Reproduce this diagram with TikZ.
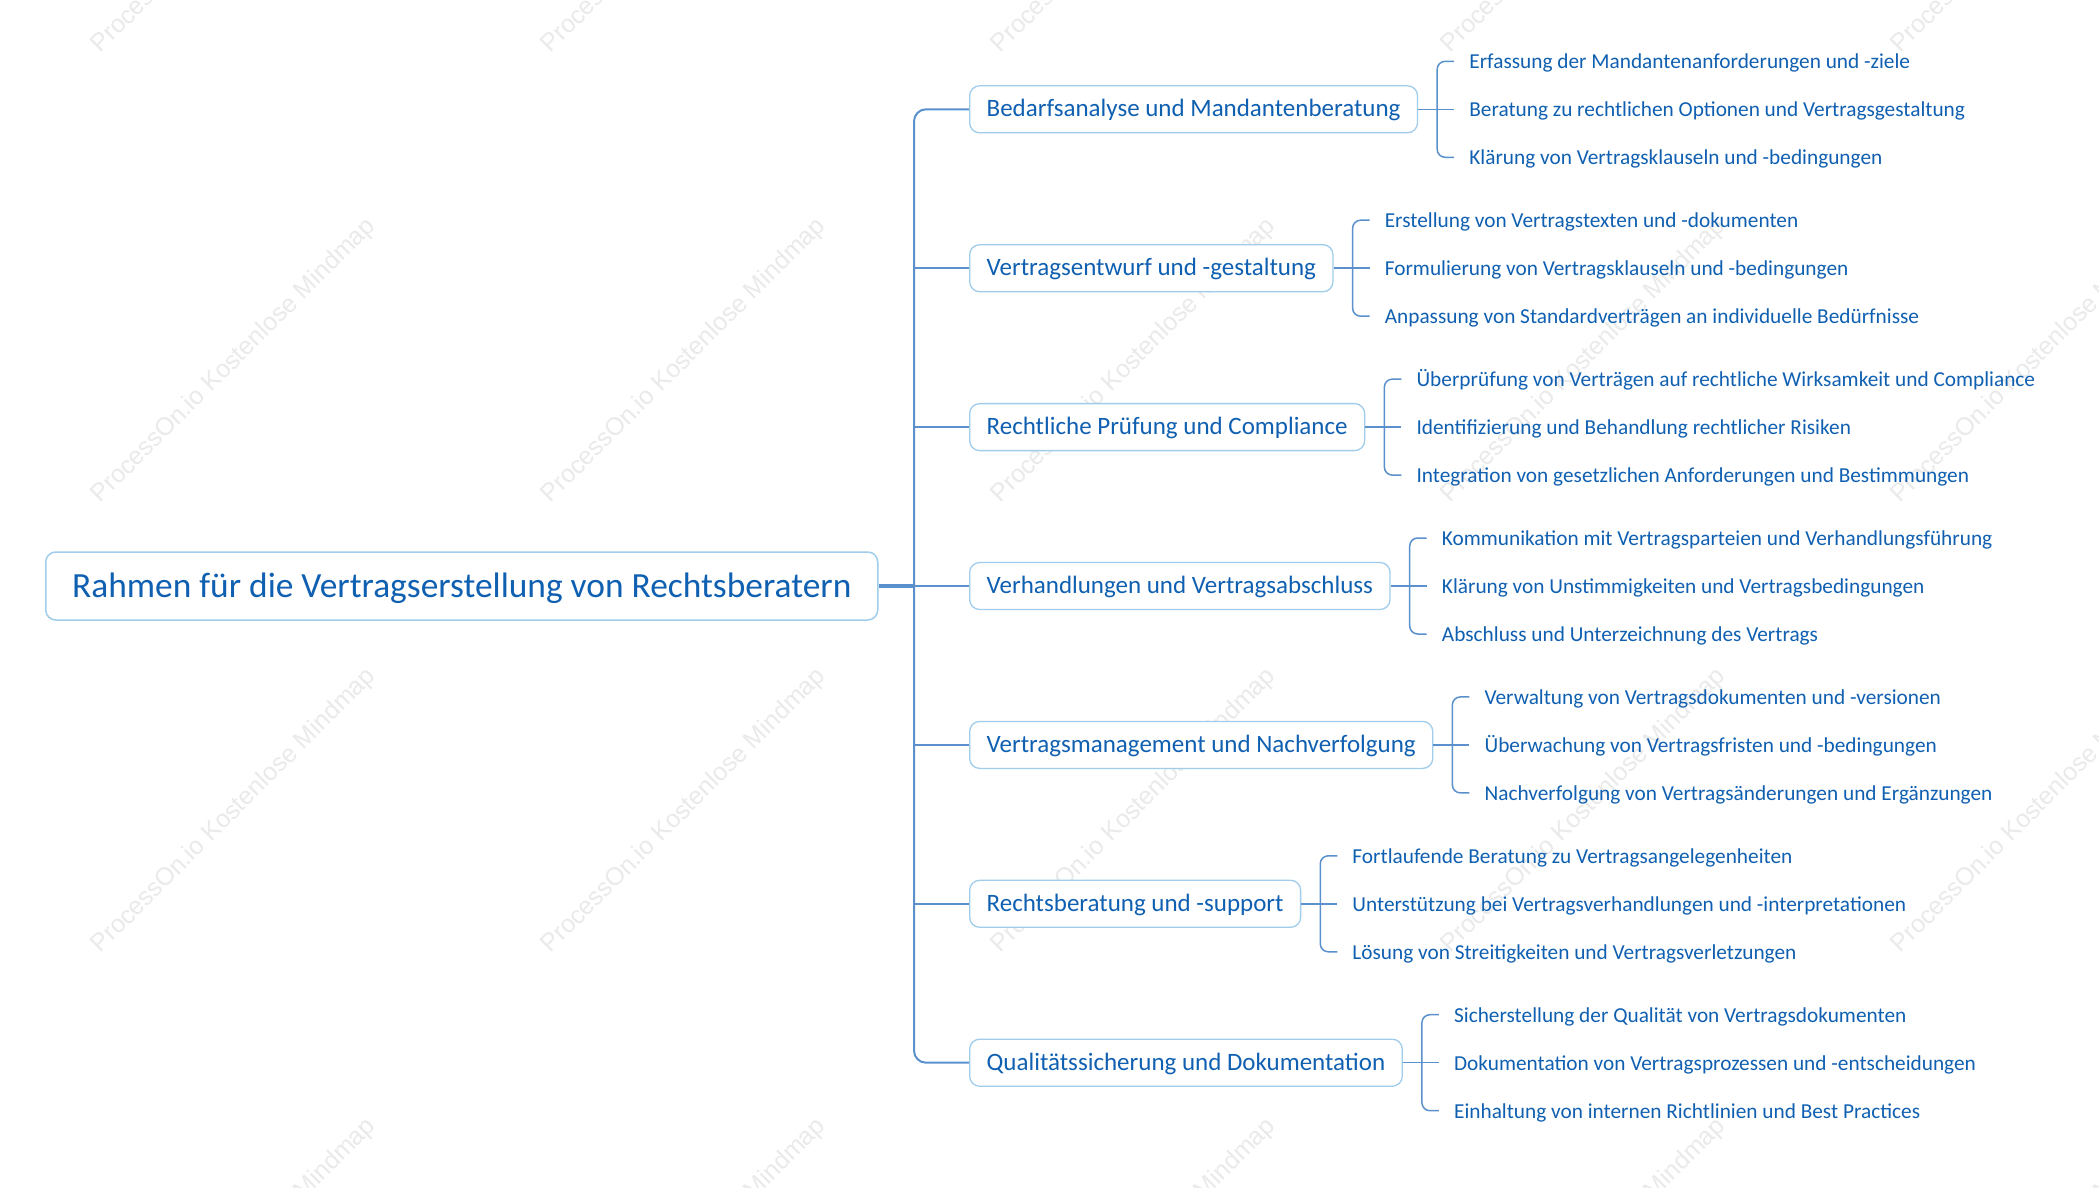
\documentclass[tikz,border=0pt]{standalone}
\usepackage{fontspec}
\setmainfont{Carlito}
\newfontfamily\wmfont{Liberation Sans}
\usetikzlibrary{calc}
\definecolor{txtblue}{RGB}{16,96,178}
\definecolor{boxline}{RGB}{160,205,235}
\definecolor{conn}{RGB}{90,145,205}
\definecolor{wmgray}{RGB}{234,234,234}
\tikzset{
  rootbox/.style={draw=boxline, line width=1.5pt, rounded corners=10pt, fill=white, text=txtblue,
    font=\fontsize{35.4}{35.4}\selectfont, minimum width=832pt, minimum height=68pt, inner xsep=0pt,
    inner ysep=0pt, text height=30pt, text depth=8pt, anchor=west},
  branchbox/.style={draw=boxline, line width=1.3pt, rounded corners=10pt, fill=white, text=txtblue,
    font=\fontsize{25}{25}\selectfont, minimum height=47pt, inner xsep=17pt, inner ysep=0pt,
    text height=20pt, text depth=5pt, anchor=west},
  leaf/.style={text=txtblue, font=\fontsize{21.3}{21.3}\selectfont, inner sep=0pt, anchor=west,
    text height=19pt, text depth=4pt},
  trunk/.style={draw=conn, line width=2pt},
  rootline/.style={draw=conn, line width=3.5pt},
  sub/.style={draw=conn, line width=1.5pt},
  wm/.style={text=wmgray, font=\wmfont\fontsize{25}{25}\selectfont, rotate=45}
}
\newcommand\leafgroup[4]{%
  \coordinate (#1j) at ($(#1.east)+(19,0)$);
  \node[leaf] (#1a) at ($(#1j)+(32,-48)$) {#2};
  \node[leaf] (#1b) at ($(#1j)+(32,0)$) {#3};
  \node[leaf] (#1c) at ($(#1j)+(32,48)$) {#4};
  \coordinate (#1ea) at ($(#1a.west)+(-15,0)$);
  \coordinate (#1eb) at ($(#1b.west)+(-15,0)$);
  \coordinate (#1ec) at ($(#1c.west)+(-15,0)$);
  \draw[sub, rounded corners=8pt] (#1ea) -| (#1j) |- (#1ec);
  \draw[sub] (#1.east) -- (#1eb);
}
\begin{document}
\begin{tikzpicture}[x=1pt,y=-1pt]
\path[use as bounding box, fill=white] (0,0) rectangle (2099,1188);
\begin{scope}
\clip (0,0) rectangle (2099,1188);
\foreach \cx in {234,684,1134,1584,2034}{
  \foreach \cy in {-89,361,811,1261}{
    \node[wm] at (\cx,\cy) {ProcessOn.io Kostenlose Mindmap};
  }
}
\end{scope}
\node[rootbox] (root) at (45,586) {Rahmen für die Vertragserstellung von Rechtsberatern};
\coordinate (tr) at (914,586);
\node[branchbox] (b1) at (969,109.3) {Bedarfsanalyse und Mandantenberatung};
\node[branchbox] (b2) at (969,268.2) {Vertragsentwurf und -gestaltung};
\node[branchbox] (b3) at (969,427.1) {Rechtliche Prüfung und Compliance};
\node[branchbox] (b4) at (969,586) {Verhandlungen und Vertragsabschluss};
\node[branchbox] (b5) at (969,744.9) {Vertragsmanagement und Nachverfolgung};
\node[branchbox] (b6) at (969,903.8) {Rechtsberatung und -support};
\node[branchbox] (b7) at (969,1062.7) {Qualitätssicherung und Dokumentation};
\draw[trunk, rounded corners=12pt] (b1.west) -| (tr) |- (b7.west);
\foreach \b in {b2,b3,b4,b5,b6}{
  \draw[trunk] (\b.west -| tr) -- (\b.west);
}
\draw[rootline] (root.east) -- (tr);
\leafgroup{b1}{Erfassung der Mandantenanforderungen und -ziele}{Beratung zu rechtlichen Optionen und Vertragsgestaltung}{Klärung von Vertragsklauseln und -bedingungen}
\leafgroup{b2}{Erstellung von Vertragstexten und -dokumenten}{Formulierung von Vertragsklauseln und -bedingungen}{Anpassung von Standardverträgen an individuelle Bedürfnisse}
\leafgroup{b3}{Überprüfung von Verträgen auf rechtliche Wirksamkeit und Compliance}{Identifizierung und Behandlung rechtlicher Risiken}{Integration von gesetzlichen Anforderungen und Bestimmungen}
\leafgroup{b4}{Kommunikation mit Vertragsparteien und Verhandlungsführung}{Klärung von Unstimmigkeiten und Vertragsbedingungen}{Abschluss und Unterzeichnung des Vertrags}
\leafgroup{b5}{Verwaltung von Vertragsdokumenten und -versionen}{Überwachung von Vertragsfristen und -bedingungen}{Nachverfolgung von Vertragsänderungen und Ergänzungen}
\leafgroup{b6}{Fortlaufende Beratung zu Vertragsangelegenheiten}{Unterstützung bei Vertragsverhandlungen und -interpretationen}{Lösung von Streitigkeiten und Vertragsverletzungen}
\leafgroup{b7}{Sicherstellung der Qualität von Vertragsdokumenten}{Dokumentation von Vertragsprozessen und -entscheidungen}{Einhaltung von internen Richtlinien und Best Practices}
\end{tikzpicture}
\end{document}
